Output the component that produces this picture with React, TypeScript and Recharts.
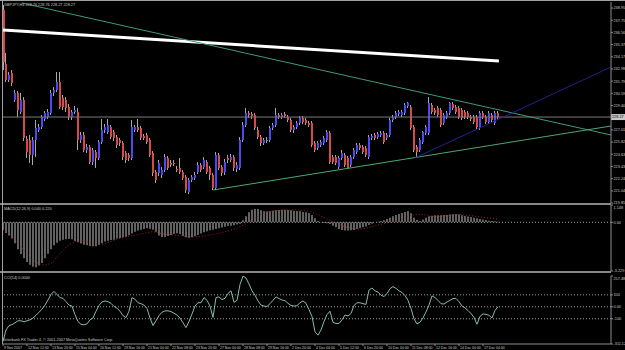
import React from 'react';
import { ComposedChart, Bar, Line, XAxis, YAxis, ReferenceLine } from 'recharts';

const FONT = 'Liberation Sans, Arial, sans-serif';
const TXT = '#c8c8c8';
const AX = '#8c8c8c';
const FS = 3.8;
const FSX = 3.5;

const opens = [238.76,233.47,231.90,232.59,229.94,230.63,228.76,229.94,226.12,226.02,224.55,226.02,227.00,227.29,228.08,228.27,228.67,230.63,230.92,231.70,230.14,229.94,229.25,228.27,228.76,228.76,226.02,226.51,225.04,225.33,223.86,224.84,224.26,225.82,227.00,226.80,227.29,226.80,226.31,226.02,225.73,224.75,224.55,224.26,227.00,227.29,227.20,226.41,226.51,226.02,224.75,222.88,222.79,222.59,223.08,224.26,223.77,223.77,223.18,223.28,222.88,222.39,220.92,222.10,222.30,222.88,223.57,223.37,223.86,223.28,222.59,221.32,224.55,223.37,222.88,224.26,224.06,224.35,223.18,223.28,226.02,227.49,228.67,228.57,228.47,227.00,226.31,225.73,226.02,226.02,227.20,227.49,228.47,228.27,228.57,228.27,227.98,227.00,227.29,227.69,228.18,227.98,227.69,227.69,225.73,225.24,225.53,225.73,226.02,226.71,224.35,224.35,223.37,224.26,224.55,224.26,223.57,224.35,224.84,225.53,225.33,225.24,224.35,226.22,226.51,226.31,226.51,226.71,226.22,226.51,227.98,228.27,228.57,228.47,228.67,229.35,229.25,227.29,225.33,225.04,225.82,226.71,226.71,229.45,228.96,229.16,228.96,227.69,228.27,228.67,229.55,229.25,229.16,228.96,228.76,228.67,228.27,228.27,228.27,227.20,228.67,228.27,227.78,228.47,227.69,228.67];
const highs = [239.25,234.55,232.68,232.88,230.92,230.82,230.63,230.23,226.41,226.51,226.31,227.98,227.59,228.47,228.86,229.06,230.92,231.21,232.68,232.68,230.43,230.23,229.55,228.96,229.35,229.16,226.80,226.80,225.63,225.53,225.24,225.04,226.02,228.08,227.59,228.08,227.49,227.00,226.51,226.22,225.92,224.94,224.75,227.98,227.49,228.08,227.39,226.61,226.71,226.22,224.94,223.08,224.06,223.37,224.65,224.45,224.06,224.06,223.47,224.26,223.08,222.59,222.30,222.59,222.88,223.86,223.77,224.35,224.06,223.47,222.79,224.84,224.75,223.57,224.16,224.55,224.65,224.55,223.86,226.31,227.78,229.16,228.86,228.76,228.67,227.29,226.51,226.22,226.31,227.39,227.69,229.16,228.67,228.67,228.76,228.47,228.18,227.49,227.88,228.37,228.37,228.18,227.88,227.88,225.92,225.92,226.02,226.41,227.00,226.90,224.55,224.55,224.45,225.04,224.75,224.45,224.55,225.24,225.73,225.73,225.53,225.43,226.51,226.61,226.71,226.80,226.90,226.90,226.71,228.18,228.47,228.86,228.96,228.96,229.65,229.74,229.45,227.49,225.53,226.22,226.90,227.49,230.23,229.65,229.16,229.35,229.16,228.67,228.86,229.74,229.74,229.45,229.35,229.16,228.96,228.86,228.47,228.47,228.47,228.86,228.86,228.47,228.86,228.67,228.86,228.86];
const lows = [232.88,231.70,231.70,231.31,229.74,228.27,228.57,225.92,224.26,223.77,223.57,224.35,226.80,227.10,227.88,228.08,228.47,230.33,230.72,229.06,228.96,228.76,227.98,227.98,228.57,225.04,225.73,224.84,224.75,223.67,223.57,223.28,224.06,225.63,226.71,226.61,226.12,225.92,225.24,225.43,224.06,223.77,223.96,224.06,226.80,226.80,226.02,226.02,225.63,224.35,222.49,221.81,222.49,222.30,222.88,223.08,223.37,223.47,222.88,222.69,222.10,220.83,220.73,221.90,222.10,222.69,222.88,223.18,222.69,222.10,221.12,221.12,223.08,222.49,222.59,223.77,223.86,222.98,222.88,223.08,225.82,227.29,228.18,228.08,227.00,226.12,225.43,225.53,225.73,225.82,227.00,227.29,228.08,228.08,228.18,227.78,226.80,226.71,227.10,227.49,227.59,227.49,227.29,225.33,224.84,225.04,225.33,225.53,225.82,223.67,223.67,223.57,223.18,224.06,223.37,223.18,223.37,224.16,224.65,225.04,224.65,224.35,224.16,226.02,226.02,226.12,226.31,225.63,226.02,226.31,227.78,228.08,228.37,228.27,228.47,229.16,227.00,224.84,224.35,224.84,225.63,226.51,226.51,228.57,228.47,228.27,227.29,227.49,228.08,228.47,228.96,228.57,228.08,227.98,228.08,228.08,227.88,227.59,227.10,227.00,228.08,227.59,227.59,227.78,227.49,228.08];
const closes = [233.66,231.90,232.39,231.61,230.63,228.96,229.94,226.22,224.84,224.55,226.02,227.20,227.29,228.27,228.67,228.76,230.63,230.92,231.70,229.25,229.25,229.16,228.27,228.76,228.96,226.02,226.51,225.04,225.33,223.86,225.04,224.26,225.82,227.00,227.29,227.49,226.31,226.22,225.53,225.73,224.35,224.06,224.26,227.29,227.29,227.00,226.22,226.22,225.82,224.55,222.79,222.10,223.77,223.08,224.35,223.28,223.57,223.67,223.08,222.88,222.30,221.12,222.10,222.39,222.59,223.57,223.08,224.06,222.88,222.59,221.32,224.55,223.28,222.79,223.86,224.06,224.35,223.28,223.57,226.02,227.49,228.67,228.47,228.37,227.20,226.31,225.73,226.02,226.02,227.20,227.49,228.47,228.27,228.47,228.37,227.98,227.00,227.29,227.69,228.18,227.78,227.69,227.49,225.53,225.04,225.73,225.82,226.22,226.80,223.86,223.86,223.77,224.26,224.75,223.57,223.28,224.35,225.04,225.53,225.24,224.84,224.55,226.31,226.41,226.22,226.61,226.71,225.82,226.51,227.98,228.27,228.67,228.76,228.76,229.45,229.65,227.20,225.04,224.84,226.02,226.80,227.29,229.65,228.76,228.67,228.47,227.49,228.47,228.67,229.65,229.16,228.76,228.27,228.18,228.27,228.27,228.08,227.78,227.29,228.67,228.27,227.78,228.67,227.98,228.67,228.27];

const macdHist = [-0.51,-0.71,-0.88,-1.08,-1.39,-1.79,-2.10,-2.39,-2.63,-2.81,-2.94,-2.98,-2.87,-2.70,-2.39,-2.08,-1.79,-1.52,-1.35,-1.22,-1.15,-1.13,-1.11,-1.13,-1.24,-1.33,-1.41,-1.48,-1.52,-1.57,-1.59,-1.59,-1.50,-1.39,-1.28,-1.22,-1.17,-1.15,-1.08,-1.04,-0.99,-0.95,-0.86,-0.75,-0.62,-0.55,-0.49,-0.44,-0.40,-0.42,-0.49,-0.62,-0.88,-0.99,-0.97,-0.91,-0.84,-0.77,-0.73,-0.77,-0.91,-0.99,-1.02,-0.99,-0.93,-0.84,-0.75,-0.66,-0.60,-0.53,-0.49,-0.44,-0.40,-0.35,-0.29,-0.24,-0.22,-0.20,-0.15,-0.09,0.13,0.40,0.66,0.84,0.88,0.88,0.80,0.73,0.71,0.73,0.77,0.80,0.82,0.84,0.84,0.82,0.80,0.77,0.75,0.73,0.69,0.66,0.62,0.49,0.27,0.09,-0.02,-0.04,-0.07,-0.11,-0.22,-0.33,-0.44,-0.51,-0.55,-0.55,-0.53,-0.51,-0.44,-0.40,-0.33,-0.27,-0.18,-0.09,0.01,0.04,0.09,0.13,0.22,0.31,0.40,0.49,0.55,0.62,0.69,0.73,0.60,0.31,0.15,0.09,0.18,0.31,0.40,0.44,0.46,0.46,0.46,0.49,0.49,0.51,0.53,0.53,0.51,0.46,0.42,0.38,0.35,0.31,0.27,0.22,0.18,0.15,0.11,0.09,0.07,0.04];
const macdSignal = [-0.49,-0.60,-0.71,-0.88,-1.11,-1.35,-1.59,-1.90,-2.12,-2.39,-2.52,-2.63,-2.74,-2.81,-2.83,-2.79,-2.70,-2.56,-2.30,-2.06,-1.86,-1.66,-1.50,-1.35,-1.26,-1.22,-1.22,-1.26,-1.28,-1.35,-1.39,-1.44,-1.46,-1.44,-1.41,-1.35,-1.26,-1.19,-1.13,-1.06,-1.02,-0.97,-0.93,-0.88,-0.86,-0.82,-0.77,-0.73,-0.69,-0.64,-0.62,-0.66,-0.71,-0.75,-0.80,-0.80,-0.82,-0.84,-0.86,-0.88,-0.91,-0.95,-0.97,-0.99,-0.97,-0.95,-0.93,-0.91,-0.88,-0.84,-0.80,-0.77,-0.73,-0.69,-0.62,-0.57,-0.51,-0.44,-0.38,-0.29,-0.20,-0.09,0.04,0.18,0.29,0.42,0.53,0.62,0.71,0.73,0.75,0.77,0.80,0.80,0.82,0.82,0.82,0.82,0.82,0.80,0.77,0.75,0.73,0.66,0.57,0.51,0.42,0.31,0.22,0.13,0.04,-0.04,-0.13,-0.22,-0.29,-0.33,-0.38,-0.42,-0.44,-0.46,-0.42,-0.40,-0.33,-0.29,-0.24,-0.18,-0.13,-0.09,-0.04,0.00,0.04,0.09,0.15,0.22,0.29,0.38,0.46,0.49,0.51,0.53,0.51,0.49,0.42,0.38,0.38,0.38,0.40,0.42,0.44,0.46,0.49,0.51,0.53,0.51,0.49,0.46,0.44,0.42,0.38,0.35,0.33,0.31,0.29,0.27,0.24,0.22];
const cciValues = [-290,-194,-157,-149,-134,-117,-117,-126,-117,-109,-94,-71,-46,-20,14,57,103,129,103,77,71,43,14,6,-66,-123,-146,-151,-143,-109,-94,-37,11,40,49,43,29,3,-11,-37,-74,-91,-37,77,63,34,26,14,-14,-94,-157,-117,-74,-46,-34,-34,-40,-54,-69,-94,-134,-174,-123,-60,6,34,34,77,54,6,-89,77,83,60,71,111,134,37,54,186,257,240,191,134,97,49,14,6,3,26,54,83,69,57,51,29,11,6,9,34,49,29,-23,-80,-209,-237,-194,-123,-66,-37,-129,-140,-140,-109,-69,-77,-57,11,34,34,26,20,140,157,134,123,97,86,111,151,169,154,134,120,94,54,-14,-100,-143,-129,-94,-43,14,91,77,54,26,23,40,54,69,69,43,6,-9,-31,-57,-89,-146,-80,-60,-63,-71,-94,-31,0];

const timeLabels = ['9 Nov 2007','12 Nov 12:00','13 Nov 20:00','15 Nov 04:00','16 Nov 12:00','19 Nov 16:00','21 Nov 00:00','22 Nov 08:00','23 Nov 20:00','27 Nov 00:00','28 Nov 08:00','29 Nov 16:00','2 Dec 20:00','4 Dec 04:00','5 Dec 12:00','6 Dec 20:00','10 Dec 00:00','11 Dec 08:00','12 Dec 16:00','14 Dec 00:00','17 Dec 04:00'];
const BARS_PER_LABEL = 8;

const priceTicks = [238.95,237.75,236.56,235.37,234.17,232.98,231.79,230.59,229.40,227.01,225.82,224.63,223.43,222.24,221.04,219.85];
const priceDomain: [number, number] = [219.85, 239.54];
const lastPrice = 228.27;

const macdTicks = [1.148, 0, -3.229];
const macdDomain: [number, number] = [-3.229, 1.148];
const cciTicks = [257.48, 100, 0, -100, -311.12];
const cciDomain: [number, number] = [-311.12, 257.48];

// trend lines: [barIndex, price] pairs
const whiteLine = [{ x: 0, y: 236.80 }, { x: 165.3, y: 233.76 }];
const greenDown = [{ x: 6.3, y: 239.44 }, { x: 202.67, y: 226.51 }];
const greenUp = [{ x: 70, y: 221.12 }, { x: 202.67, y: 227.39 }];
const blueUp = [{ x: 137.3, y: 224.26 }, { x: 202.67, y: 233.17 }];

const headerText = 'GBPJPY,H4  228.76 228.76 228.27 228.27';
const macdText = 'MACD(12,26,9) 0.040 0.220';
const cciText = 'CCI(14) 0.0000';
const copyText = 'Interbank FX Trader 4, \u00a9 2001-2007 MetaQuotes Software Corp.';

const X_DOMAIN: [number, number] = [0, 202.67];

const candleData = opens.map((o, i) => ({ i, o, h: highs[i], l: lows[i], c: closes[i], range: [lows[i], highs[i]] }));
const macdData = macdHist.map((h, i) => ({ i, h, s: macdSignal[i] }));
const cciData = cciValues.map((v, i) => ({ i, v }));

const Candle = (props: any) => {
  const { x, y, width, height, payload } = props;
  if (!payload) return null;
  const top = Math.min(y, y + height);
  const hh = Math.abs(height);
  const span = payload.h - payload.l || 1;
  const yOf = (v: number) => top + ((payload.h - v) / span) * hh;
  const cx = Math.round(x + width / 2);
  const yo = yOf(payload.o);
  const yc = yOf(payload.c);
  const doji = payload.o === payload.c;
  const color = doji ? '#3cb371' : payload.c > payload.o ? '#4a4af0' : '#d84a4a';
  return (
    <g>
      <line x1={cx + 0.5} x2={cx + 0.5} y1={top} y2={top + hh} stroke="#a8a8a8" strokeWidth={1} />
      <rect x={cx} y={Math.min(yo, yc)} width={2} height={Math.max(1, Math.abs(yc - yo))} fill={color} />
    </g>
  );
};

// topMax: the panel's maximum label is written just below its tick, as the reference does
const makeYTick = (fmt: (v: number) => string, topMax?: number) => (props: any) => {
  const { x, y, payload } = props;
  const dy = topMax !== undefined && payload.value === topMax ? 3.6 : 1.4;
  return (
    <g>
      <line x1={x} x2={x + 2} y1={y} y2={y} stroke={AX} />
      <text x={x + 2.5} y={y + dy} fontSize={FS} fill={TXT} fontFamily={FONT}>{fmt(payload.value)}</text>
    </g>
  );
};

const priceFmt = (v: number) => v.toFixed(2);
const macdFmt = (v: number) => (v === 0 ? '0.00' : String(v));
const cciFmt = (v: number) => (v === 0 ? '0.00' : String(v));

const TimeTick = (props: any) => {
  const { x, y, payload } = props;
  const label = timeLabels[Math.round(payload.value / BARS_PER_LABEL)];
  return (
    <g>
      <line x1={x} x2={x} y1={y} y2={y + 2} stroke={AX} />
      <text x={x + 1} y={y + 4.6} fontSize={FSX} fill={TXT} fontFamily={FONT}>{label}</text>
    </g>
  );
};

const PriceTag = (props: any) => {
  const vb = props.viewBox || {};
  const x = (vb.x || 0) + (vb.width || 0);
  const y = vb.y || 0;
  return (
    <g>
      <rect x={x} y={y - 3} width={14} height={6} fill="#c8c8c8" />
      <text x={x + 1} y={y + 1.4} fontSize={FS} fill="#000" fontFamily={FONT}>{lastPrice.toFixed(2)}</text>
    </g>
  );
};

export default function App() {
  const timeTicks = timeLabels.map((_, k) => k * BARS_PER_LABEL);
  return (
    <div style={{ position: 'fixed', left: 0, top: 0, width: 625, height: 350, background: '#000', overflow: 'hidden' }}>
      <div style={{ position: 'absolute', left: 0, top: 0 }}>
        <ComposedChart width={625} height={205} data={candleData} margin={{ top: 2, right: 0, bottom: 2, left: 3 }}>
          <XAxis type="number" dataKey="i" domain={X_DOMAIN} hide allowDataOverflow />
          <YAxis orientation="right" width={14} domain={priceDomain} ticks={priceTicks} interval={0} allowDataOverflow
            tickLine={false} tickSize={0} tickMargin={0} axisLine={{ stroke: AX }} tick={makeYTick(priceFmt)} />
          <ReferenceLine y={lastPrice} stroke="#7a7a7a" strokeWidth={1} label={<PriceTag />} />
          <Bar dataKey="range" shape={<Candle />} barSize={2} isAnimationActive={false} />
          <ReferenceLine segment={whiteLine} stroke="#ffffff" strokeWidth={3} ifOverflow="hidden" />
          <ReferenceLine segment={greenDown} stroke="#3c9a78" strokeWidth={1} ifOverflow="hidden" />
          <ReferenceLine segment={greenUp} stroke="#4aa870" strokeWidth={1} ifOverflow="hidden" />
          <ReferenceLine segment={blueUp} stroke="#22228c" strokeWidth={1} ifOverflow="hidden" />
        </ComposedChart>
      </div>
      <div style={{ position: 'absolute', left: 0, top: 203 }}>
        <ComposedChart width={625} height={69} data={macdData} margin={{ top: 2, right: 0, bottom: 1, left: 3 }}>
          <XAxis type="number" dataKey="i" domain={X_DOMAIN} hide allowDataOverflow />
          <YAxis orientation="right" width={14} domain={macdDomain} ticks={macdTicks} interval={0} allowDataOverflow
            tickLine={false} tickSize={0} tickMargin={0} axisLine={{ stroke: AX }} tick={makeYTick(macdFmt, macdDomain[1])} />
          <ReferenceLine y={0} stroke="#a0a0a0" strokeDasharray="1 2" />
          <Bar dataKey="h" fill="#c4c4c4" barSize={1} isAnimationActive={false} />
          <Line type="linear" dataKey="s" stroke="#a82020" strokeWidth={1} strokeDasharray="1 2" dot={false} isAnimationActive={false} />
        </ComposedChart>
      </div>
      <div style={{ position: 'absolute', left: 0, top: 274 }}>
        <ComposedChart width={625} height={76} data={cciData} margin={{ top: 2, right: 0, bottom: 0, left: 3 }}>
          <XAxis type="number" dataKey="i" domain={X_DOMAIN} allowDataOverflow ticks={timeTicks} interval={0} height={6}
            tickLine={false} tickSize={0} tickMargin={0} axisLine={{ stroke: AX }} tick={<TimeTick />} />
          <YAxis orientation="right" width={14} domain={cciDomain} ticks={cciTicks} interval={0} allowDataOverflow
            tickLine={false} tickSize={0} tickMargin={0} axisLine={{ stroke: AX }} tick={makeYTick(cciFmt, cciDomain[1])} />
          <ReferenceLine y={100} stroke="#a0a0a0" strokeDasharray="1 2" />
          <ReferenceLine y={0} stroke="#a0a0a0" strokeDasharray="1 2" />
          <ReferenceLine y={-100} stroke="#a0a0a0" strokeDasharray="1 2" />
          <Line type="linear" dataKey="v" stroke="#86bcb0" strokeWidth={1} dot={false} isAnimationActive={false} />
        </ComposedChart>
      </div>
      <svg width={625} height={350} style={{ position: 'absolute', left: 0, top: 0, pointerEvents: 'none' }}>
        <line x1={0} x2={625} y1={0.5} y2={0.5} stroke="#a0a0a0" />
        <line x1={2.5} x2={2.5} y1={0} y2={344} stroke="#a0a0a0" />
        <line x1={0} x2={611} y1={204} y2={204} stroke="#b4b4b4" strokeWidth={1.5} />
        <line x1={0} x2={611} y1={272} y2={272} stroke="#b4b4b4" strokeWidth={1.5} />
        <text x={4} y={5.5} fontSize={FS} fill={TXT} fontFamily={FONT}>{headerText}</text>
        <text x={4} y={209.5} fontSize={FS} fill={TXT} fontFamily={FONT}>{macdText}</text>
        <text x={4} y={278.5} fontSize={FS} fill={TXT} fontFamily={FONT}>{cciText}</text>
        <text x={4} y={341} fontSize={FS} fill={TXT} fontFamily={FONT}>{copyText}</text>
      </svg>
    </div>
  );
}
